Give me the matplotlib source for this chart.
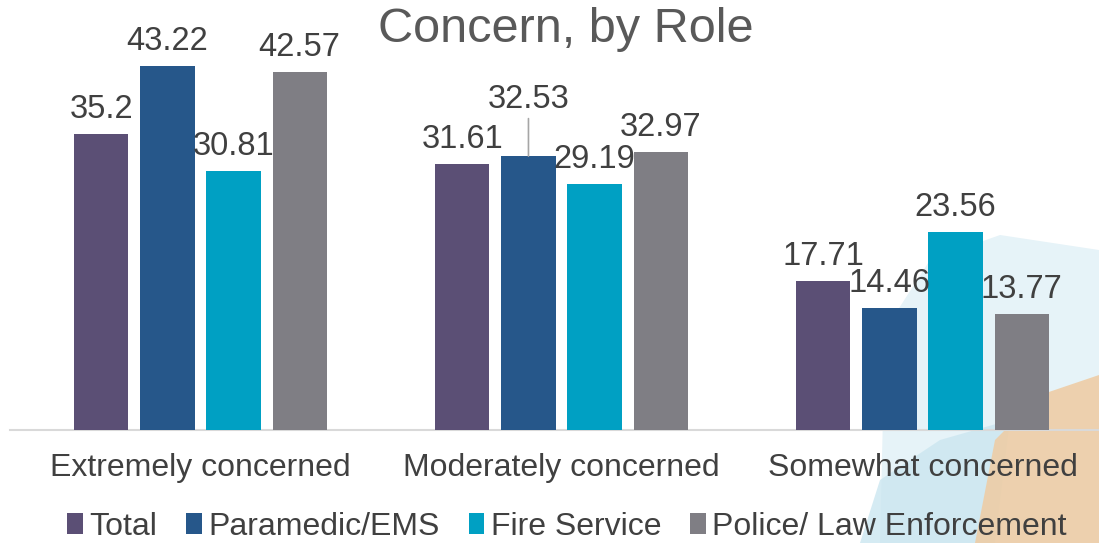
import matplotlib
matplotlib.use("Agg")
import matplotlib.pyplot as plt
from matplotlib.patches import Polygon, Patch
from matplotlib.lines import Line2D
import numpy as np

categories = ["Extremely concerned", "Moderately concerned", "Somewhat concerned"]
series_names = ["Total", "Paramedic/EMS", "Fire Service", "Police/ Law Enforcement"]
total = [35.2, 31.61, 17.71]
paramedic = [43.22, 32.53, 14.46]
fire = [30.81, 29.19, 23.56]
police = [42.57, 32.97, 13.77]
title = "Concern, by Role"

colors = ["#5B4F75", "#26578A", "#00A0C3", "#7F7E84"]
text_color = "#404040"

plt.rcParams['font.family'] = ['Liberation Sans', 'DejaVu Sans']

W, H = 1099, 543
fig = plt.figure(figsize=(W / 100, H / 100), dpi=100)
fig.patch.set_facecolor("white")

# decorative background shapes (figure pixel coords converted)
def fpoly(pts, color, alpha=1.0):
    p = Polygon([(x / W, 1 - y / H) for x, y in pts], closed=True,
                transform=fig.transFigure, facecolor=color, edgecolor="none",
                alpha=alpha, zorder=-5)
    fig.add_artist(p)

fpoly([(880, 543), (885, 330), (930, 260), (1000, 235), (1099, 250), (1099, 543)], "#E6F3F8")
fpoly([(860, 543), (880, 480), (940, 440), (1010, 420), (995, 543)], "#CBE6F0", 0.8)
fpoly([(975, 543), (995, 440), (1040, 395), (1099, 375), (1099, 543)], "#EECDA6", 0.9)

ax_left = 20 / W
ax_w = 1083 / W
ax_bottom = (H - 430) / H
ax_h = 421 / H
ax = fig.add_axes([ax_left, ax_bottom, ax_w, ax_h])
ax.set_zorder(2)
ax.set_facecolor("none")
ax.set_xlim(-0.5, 2.5)
ax.set_ylim(0, 50)
for s in ax.spines.values():
    s.set_visible(False)
ax.set_xticks([])
ax.set_yticks([])

# axis baseline
fig.add_artist(Line2D([10 / W, 1.0], [ax_bottom, ax_bottom], transform=fig.transFigure,
                      color="#D9D9D9", lw=1.5, zorder=1))

x = np.arange(len(categories))
pitch = 0.183
width = 0.15
all_series = [total, paramedic, fire, police]
for i, (vals, c) in enumerate(zip(all_series, colors)):
    xs = x + (i - 1.5) * pitch
    ax.bar(xs, vals, width=width, color=c, zorder=2)
    for j, (xx, v) in enumerate(zip(xs, vals)):
        raise_pts = 0
        if i == 1 and j == 1:
            raise_pts = 23
        ax.annotate(f"{v:g}", (xx, v), xytext=(0, 11.5 + raise_pts), textcoords="offset points",
                    ha="center", va="baseline", fontsize=23.5, color=text_color, zorder=3)
        if raise_pts:
            ax.annotate("", (xx, v), xytext=(0, 27), textcoords="offset points",
                        arrowprops=dict(arrowstyle="-", color="#A6A6A6", lw=1.2,
                                        shrinkA=0, shrinkB=0))

for xx, cat in zip(x, categories):
    fig.text((ax_left + ax_w * (xx + 0.5) / 3), 1 - 468 / H, cat, ha="center", va="center",
             fontsize=23, color=text_color, zorder=3)

fig.text(566 / W, 1 - 30 / H, title, ha="center", va="center", fontsize=35, color="#595959")

handles = [Patch(facecolor=c, edgecolor="none") for c in colors]
leg = fig.legend(handles, series_names, loc="center", bbox_to_anchor=(567 / W, 1 - 527 / H),
                 ncol=4, frameon=False, fontsize=23, handlelength=0.5, handleheight=0.65,
                 handletextpad=0.2, columnspacing=0.9, borderaxespad=0, borderpad=0)
leg.set_zorder(3)
for t in leg.get_texts():
    t.set_color(text_color)

fig.savefig("out.png", dpi=100, facecolor=fig.get_facecolor())
